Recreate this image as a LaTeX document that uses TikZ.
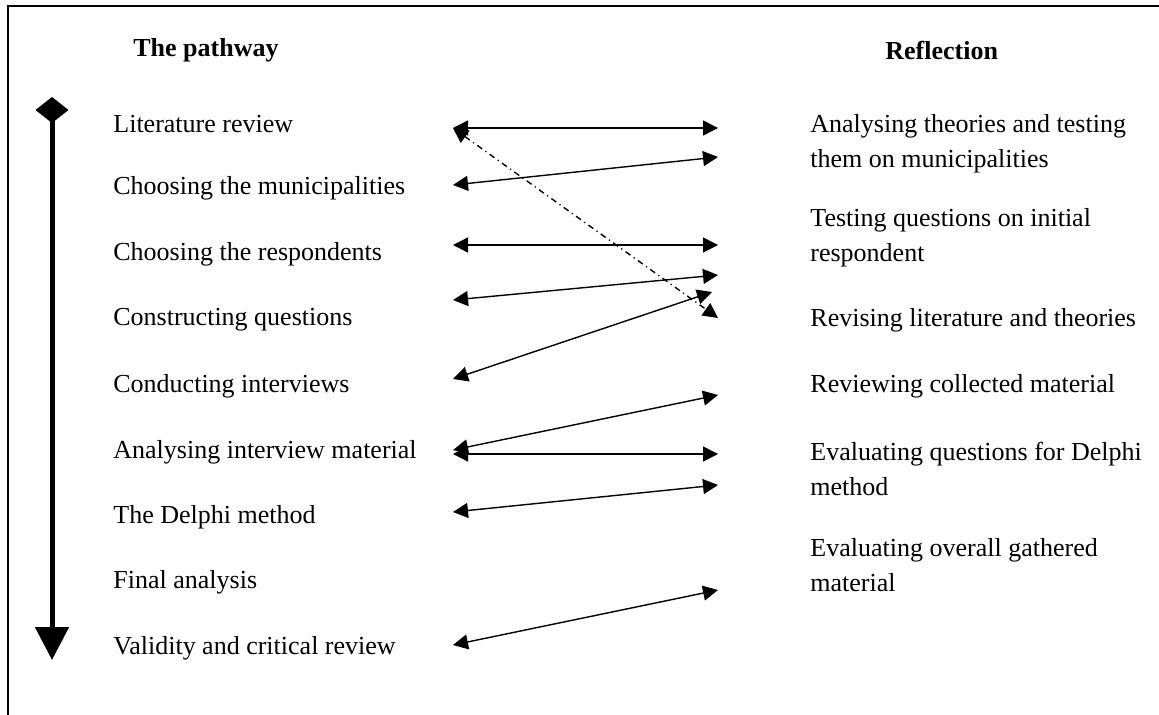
\documentclass[tikz,border=0pt]{standalone}
\usepackage{fontspec}
\setmainfont{Liberation Serif}
\usetikzlibrary{arrows.meta}

\begin{document}
\begin{tikzpicture}[
  x=0.5pt, y=-0.5pt,
  font=\fontsize{13}{17.5}\selectfont,
  >={Triangle[length=7.5pt, width=7.5pt]},
  stage/.style={anchor=west, inner sep=0pt},
  refl/.style={anchor=west, inner sep=0pt, align=left},
  head/.style={anchor=west, inner sep=0pt, font=\fontsize{13}{17.5}\selectfont\bfseries},
  link/.style={<->, line width=0.7pt},
  jump/.style={<->, line width=0.7pt, dash pattern=on 3pt off 2pt on 0.6pt off 2pt}
]
\useasboundingbox (0,0) rectangle (1159,715);
% frame, only top and left edges show
\draw[line width=1.2pt] (1159,6) -- (8,6) -- (8,715);

\node[head] (hpath) at (133,50) {The pathway};
\node[head] (hrefl) at (885,50) {Reflection};

% timeline
\coordinate (tstart) at (52,97);
\coordinate (tend)   at (52,660);
\draw[line width=2.5pt, {Turned Square[length=13pt, width=16.5pt]}-{Triangle[length=16.5pt, width=16.5pt]}]
  (tstart) -- (tend);

% the pathway
\node[stage] (lit)  at (113,124) {Literature review};
\node[stage] (mun)  at (113,188) {Choosing the municipalities};
\node[stage] (resp) at (113,254) {Choosing the respondents};
\node[stage] (cons) at (113,320) {Constructing questions};
\node[stage] (cond) at (113,386) {Conducting interviews};
\node[stage] (anal) at (113,452) {Analysing interview material};
\node[stage] (delp) at (113,517) {The Delphi method};
\node[stage] (fin)  at (113,582) {Final analysis};
\node[stage] (val)  at (113,648) {Validity and critical review};

% reflection
\node[refl] (rtheo) at (810,143.5) {Analysing theories and testing\\them on municipalities};
\node[refl] (rtest) at (810,238)   {Testing questions on initial\\respondent};
\node[refl] (rrev)  at (810,320)   {Revising literature and theories};
\node[refl] (rcoll) at (810,386)   {Reviewing collected material};
\node[refl] (rdelp) at (810,469)   {Evaluating questions for Delphi\\method};
\node[refl] (rgath) at (810,565)   {Evaluating overall gathered\\material};

% arrow ends
\coordinate (l1) at (453,128);
\coordinate (l2) at (453,185);
\coordinate (l3) at (453,245);
\coordinate (l4) at (453,300);
\coordinate (l5) at (453,379);
\coordinate (l6) at (453,450);
\coordinate (l7) at (453,454);
\coordinate (l8) at (453,512);
\coordinate (l9) at (453,645);
\coordinate (r1) at (718,128);
\coordinate (r2) at (718,157);
\coordinate (r3) at (718,245);
\coordinate (r4) at (718,275);
\coordinate (r5) at (712,292);
\coordinate (r6) at (718,318);
\coordinate (r7) at (718,395);
\coordinate (r8) at (718,454);
\coordinate (r9) at (718,485);
\coordinate (r10) at (718,590);

\draw[link] (l1) -- (r1);
\draw[link] (l2) -- (r2);
\draw[link] (l3) -- (r3);
\draw[link] (l4) -- (r4);
\draw[link] (l5) -- (r5);
\draw[jump] (l1) -- (r6);
\draw[link] (l6) -- (r7);
\draw[link] (l7) -- (r8);
\draw[link] (l8) -- (r9);
\draw[link] (l9) -- (r10);
\end{tikzpicture}
\end{document}
